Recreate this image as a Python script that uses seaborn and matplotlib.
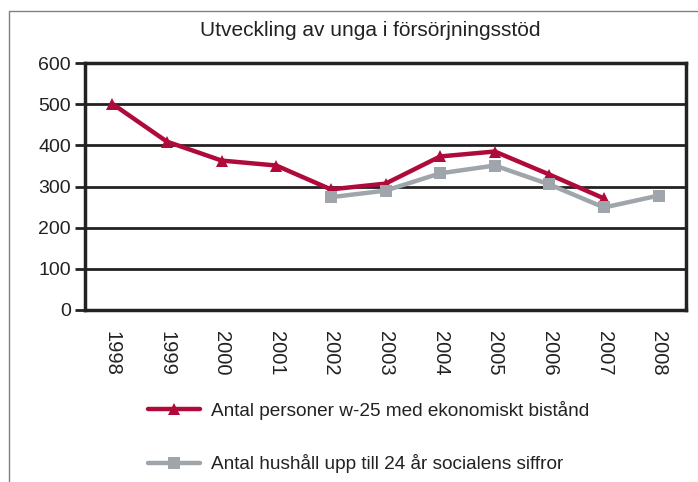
import matplotlib
matplotlib.use("Agg")
import matplotlib.pyplot as plt
import seaborn as sns
import pandas as pd
import numpy as np
from matplotlib.patches import Rectangle

years = ["1998", "1999", "2000", "2001", "2002", "2003", "2004", "2005", "2006", "2007", "2008"]
personer = [501, 409, 363, 351, 293, 307, 373, 385, 329, 271, np.nan]
hushall = [np.nan, np.nan, np.nan, np.nan, 274, 290, 332, 351, 305, 249, 278]
label_personer = "Antal personer w-25 med ekonomiskt bistånd"
label_hushall = "Antal hushåll upp till 24 år socialens siffror"
title = "Utveckling av unga i försörjningsstöd"
yticks = [0, 100, 200, 300, 400, 500, 600]

sns.set_theme(style="white")
plt.rcParams['font.family'] = ['Liberation Sans', 'DejaVu Sans']

df = pd.DataFrame({"pos": np.arange(len(years)), "personer": personer, "hushall": hushall})

fig = plt.figure(figsize=(6.98, 4.82), dpi=100)
ax = fig.add_axes([85/698, 1-310/482, (686-85)/698, (310-63)/482])

red = "#B00A3A"
gray = "#A0A5AB"

sns.lineplot(data=df, x="pos", y="personer", ax=ax, color=red, lw=3.2,
             marker="^", markersize=11, markeredgewidth=0, label=label_personer)
sns.lineplot(data=df, x="pos", y="hushall", ax=ax, color=gray, lw=3.2,
             marker="s", markersize=10, markeredgewidth=0, label=label_hushall)

ax.set_xlim(-0.5, len(years) - 0.5)
ax.set_ylim(0, 600)
ax.set_yticks(yticks)
ax.set_yticklabels([str(v) for v in yticks], fontsize=14, color="#222222")
ax.set_xticks(np.arange(len(years)))
ax.set_xticklabels(years, rotation=-90, fontsize=14.5, color="#222222")
ax.set_xticks(np.arange(len(years) + 1) - 0.5, minor=True)
ax.tick_params(axis="x", which="major", length=0, pad=15)
ax.tick_params(axis="x", which="minor", length=5, width=2, color="#222222", direction="out")
ax.tick_params(axis="y", which="major", length=7, width=2, color="#222222", direction="out", left=True, pad=3)
ax.set_xlabel("")
ax.set_ylabel("")
ax.grid(axis="y", color="#222222", lw=2)
ax.set_axisbelow(True)
for s in ax.spines.values():
    s.set_color("#222222")
    s.set_linewidth(2.5)
    s.set_visible(True)

ax.legend_.remove()
h, l = ax.get_legend_handles_labels()
for hh in h:
    hh.set_markersize(8)
fig.legend(h, l, loc="upper left", bbox_to_anchor=(131/698, 1-384/482), frameon=False,
           fontsize=13.7, labelspacing=1.8, handlelength=2.7, handletextpad=0.6,
           labelcolor="#222222")

fig.text(370/698, 1-30/482, title, ha="center", va="center", fontsize=15, color="#222222")

fig.patches.append(Rectangle((9/698, -0.1), 1.2, 1.1 - 11/482, transform=fig.transFigure,
                             fill=False, edgecolor="#808080", lw=1))

fig.savefig("out.png", dpi=100, facecolor="white")
